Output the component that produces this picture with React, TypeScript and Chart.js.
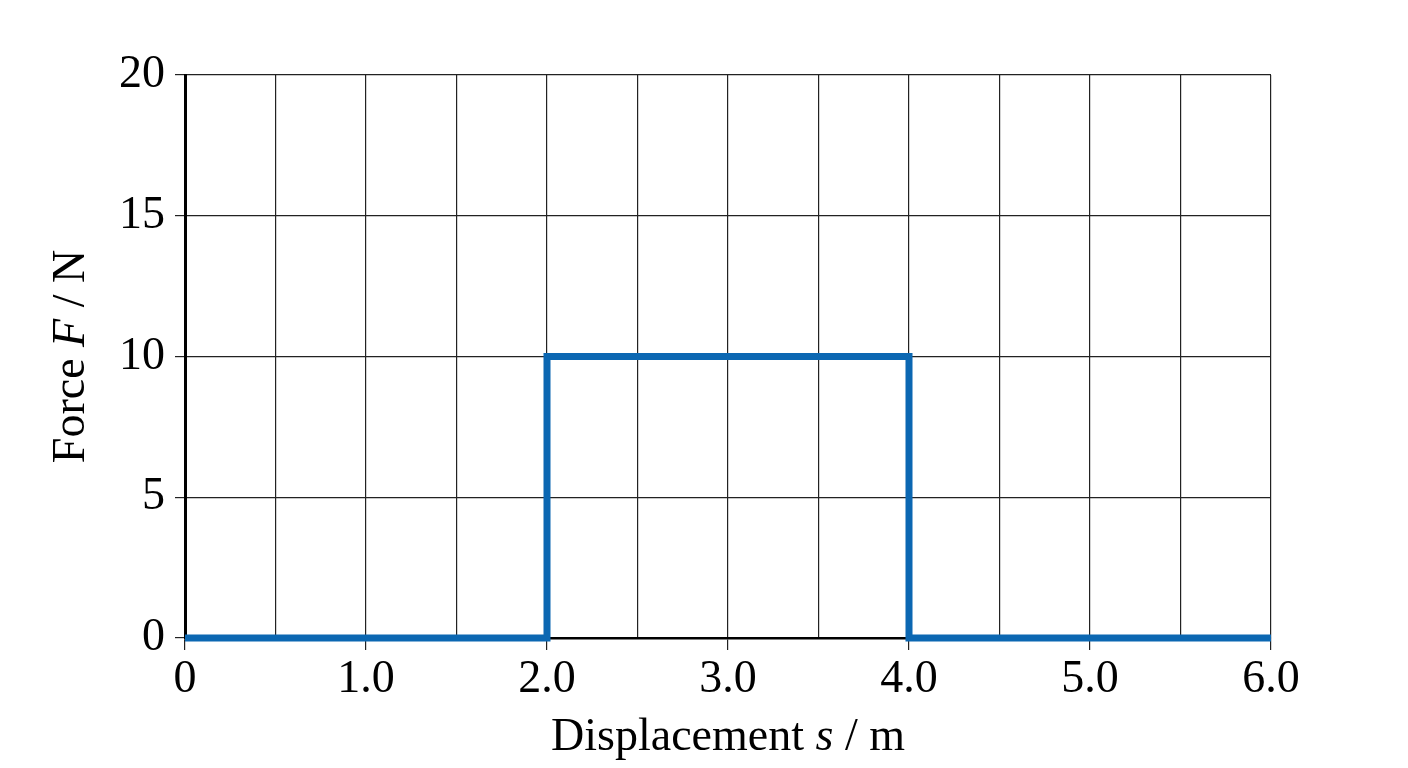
import React, { useEffect, useRef } from "react";
import { Chart, registerables } from "chart.js";

Chart.register(...registerables);

const displacement = [0, 2, 2, 4, 4, 6];
const force = [0, 0, 10, 10, 0, 0];
const xTickValues = [0, 1, 2, 3, 4, 5, 6];
const xTickLabels = ["0", "1.0", "2.0", "3.0", "4.0", "5.0", "6.0"];
const yTickLabels = ["0", "5", "10", "15", "20"];

const FONT = '"Liberation Serif", "Times New Roman", serif';

const titlePlugin = {
  id: "mixedTitles",
  afterDraw(chart: any) {
    const { ctx, chartArea } = chart;
    const size = 46;
    const drawParts = (parts: [string, boolean][], cx: number, cy: number, rot: number) => {
      ctx.save();
      ctx.translate(cx, cy);
      ctx.rotate(rot);
      ctx.fillStyle = "#000";
      ctx.textBaseline = "alphabetic";
      ctx.textAlign = "left";
      let total = 0;
      for (const [t, it] of parts) {
        ctx.font = `${it ? "italic " : ""}${size}px ${FONT}`;
        total += ctx.measureText(t).width;
      }
      let x = -total / 2;
      for (const [t, it] of parts) {
        ctx.font = `${it ? "italic " : ""}${size}px ${FONT}`;
        ctx.fillText(t, x, 0);
        x += ctx.measureText(t).width;
      }
      ctx.restore();
    };
    const cx = (chartArea.left + chartArea.right) / 2;
    const cy = (chartArea.top + chartArea.bottom) / 2;
    drawParts([["Displacement ", false], ["s", true], [" / m", false]], cx, 750, 0);
    drawParts([["Force ", false], ["F", true], [" / N", false]], 84, cy, -Math.PI / 2);
  },
};

export default function App() {
  const ref = useRef<HTMLCanvasElement | null>(null);
  useEffect(() => {
    document.body.style.margin = "0";
    if (!ref.current) return;
    const chart = new Chart(ref.current, {
      type: "line",
      data: {
        datasets: [
          {
            data: displacement.map((x, i) => ({ x, y: force[i] })),
            borderColor: "#0b67b2",
            borderWidth: 7,
            pointRadius: 0,
            tension: 0,
            fill: false,
            clip: false,
            borderJoinStyle: "miter",
            borderCapStyle: "butt",
          },
        ],
      },
      options: {
        animation: false,
        responsive: false,
        maintainAspectRatio: false,
        devicePixelRatio: 1,
        layout: { padding: { top: 75, right: 137, bottom: 0, left: 0 } },
        plugins: { legend: { display: false }, tooltip: { enabled: false } },
        scales: {
          x: {
            type: "linear",
            min: 0,
            max: 6,
            afterFit: (s: any) => {
              s.height = 130;
            },
            afterBuildTicks: (s: any) => {
              const t: any[] = [];
              for (let v = 0; v <= 12; v++) t.push({ value: v / 2 });
              s.ticks = t;
            },
            ticks: {
              autoSkip: false,
              maxRotation: 0,
              padding: 2,
              color: "#000",
              font: { family: FONT, size: 46 },
              callback: (v: any) => {
                const i = xTickValues.indexOf(Number(v));
                return i >= 0 ? xTickLabels[i] : "";
              },
            },
            grid: {
              color: "#222",
              lineWidth: 1.2,
              tickLength: 12,
              tickColor: (c: any) =>
                c.tick && Number.isInteger(c.tick.value) ? "#222" : "rgba(0,0,0,0)",
            },
            border: { display: true, color: "#000", width: 2.5 },
          },
          y: {
            type: "linear",
            min: 0,
            max: 20,
            afterFit: (s: any) => {
              s.width = 185;
            },
            ticks: {
              stepSize: 5,
              padding: 10,
              color: "#000",
              font: { family: FONT, size: 46 },
              callback: (v: any) => {
                const i = [0, 5, 10, 15, 20].indexOf(Number(v));
                return i >= 0 ? yTickLabels[i] : "";
              },
            },
            grid: { color: "#222", lineWidth: 1.2, tickLength: 10, tickColor: "#222" },
            border: { display: true, color: "#000", width: 3 },
          },
        },
      },
      plugins: [titlePlugin],
    } as any);
    return () => chart.destroy();
  }, []);
  return (
    <div style={{ width: 1408, height: 768, background: "#fff" }}>
      <canvas ref={ref} width={1408} height={768} style={{ display: "block" }} />
    </div>
  );
}
